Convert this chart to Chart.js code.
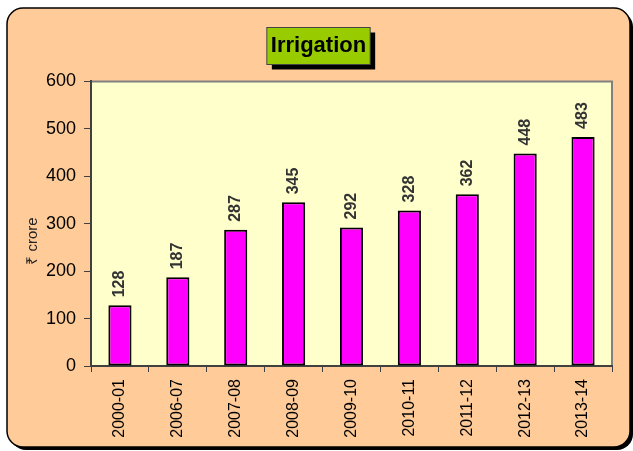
<!DOCTYPE html>
<html>
<head>
<meta charset="utf-8">
<script src="https://cdn.jsdelivr.net/npm/chart.js@4"></script>
<style>
  html, body { margin: 0; padding: 0; background: #fff; }
  #wrap { width: 633px; height: 451px; }
</style>
</head>
<body>
<div id="wrap"><canvas id="myChart" width="633" height="451"></canvas></div>
<script>
// chart values
var years = ['2000-01', '2006-07', '2007-08', '2008-09', '2009-10', '2010-11', '2011-12', '2012-13', '2013-14'];
var spend = [128, 187, 287, 345, 292, 328, 362, 448, 483];
var yTicks = [0, 100, 200, 300, 400, 500, 600];
var yTitle = '₹ crore';

var FONT = "'Liberation Sans', Arial, sans-serif";

// outer rounded panel, title box and plot background
var panelPlugin = {
  id: 'panel',
  beforeDraw: function (chart) {
    var ctx = chart.ctx;
    var x = 7, y = 8, w = 623, h = 439, r = 16;
    ctx.save();
    ctx.beginPath();
    ctx.roundRect(x + 3, y + 3, w, h, r);
    ctx.fillStyle = '#000';
    ctx.fill();
    ctx.beginPath();
    ctx.roundRect(x, y, w, h, r);
    ctx.fillStyle = '#FFCC99';
    ctx.fill();
    ctx.lineWidth = 1.5;
    ctx.strokeStyle = '#000';
    ctx.stroke();

    // title box
    var t = chart.titleBlock;
    ctx.font = 'bold 22px ' + FONT;
    var tw = ctx.measureText('Irrigation').width;
    var cx = t.left + t.width / 2;
    var cy = t.top + 13;
    var bw = tw + 8, bh = 37;
    ctx.fillStyle = '#000';
    ctx.fillRect(cx - bw / 2 + 5, cy - bh / 2 + 5, bw, bh);
    ctx.fillStyle = '#99CC00';
    ctx.fillRect(cx - bw / 2, cy - bh / 2, bw, bh);
    ctx.lineWidth = 1;
    ctx.strokeStyle = '#444';
    ctx.strokeRect(cx - bw / 2, cy - bh / 2, bw, bh);

    // plot area
    var a = chart.chartArea;
    ctx.fillStyle = '#FFFFCC';
    ctx.fillRect(a.left, a.top, a.right - a.left, a.bottom - a.top);
    ctx.strokeStyle = '#808080';
    ctx.lineWidth = 2;
    ctx.beginPath();
    ctx.moveTo(a.left, a.top);
    ctx.lineTo(a.right, a.top);
    ctx.lineTo(a.right, a.bottom);
    ctx.stroke();

    // y axis title
    ctx.save();
    ctx.translate(33, 241);
    ctx.rotate(-Math.PI / 2);
    ctx.font = '15px ' + FONT;
    ctx.fillStyle = '#222';
    ctx.textAlign = 'center';
    ctx.textBaseline = 'middle';
    ctx.fillText(yTitle, 0, 0);
    ctx.restore();
    ctx.restore();
  },
  afterDatasetsDraw: function (chart) {
    // value labels above bars, rotated
    var ctx = chart.ctx;
    var meta = chart.getDatasetMeta(0);
    ctx.save();
    ctx.font = 'bold 16px ' + FONT;
    ctx.fillStyle = '#333';
    ctx.textAlign = 'left';
    ctx.textBaseline = 'middle';
    meta.data.forEach(function (bar, i) {
      ctx.save();
      ctx.translate(bar.x, bar.y - 8);
      ctx.rotate(-Math.PI / 2);
      ctx.fillText(String(spend[i]), 0, 0);
      ctx.restore();
    });
    ctx.restore();
  }
};

var ctx = document.getElementById('myChart').getContext('2d');
var myChart = new Chart(ctx, {
  type: 'bar',
  data: {
    labels: years,
    datasets: [{
      label: 'Irrigation',
      data: spend,
      backgroundColor: '#FF00FF',
      borderColor: '#000',
      borderWidth: 2,
      borderSkipped: false,
      categoryPercentage: 1,
      barPercentage: 0.4
    }]
  },
  plugins: [panelPlugin],
  options: {
    responsive: false,
    animation: false,
    layout: { padding: { top: 33, left: 25, right: 21, bottom: 10 } },
    plugins: {
      legend: { display: false },
      tooltip: { enabled: false },
      title: {
        display: true,
        text: 'Irrigation',
        color: '#000',
        font: { family: FONT, size: 22, weight: 'bold', lineHeight: 1.2 },
        padding: { top: 0, bottom: 22 }
      }
    },
    scales: {
      x: {
        offset: true,
        grid: { offset: true, drawOnChartArea: false, tickLength: 6, color: '#404040' },
        border: { color: '#404040', width: 2 },
        ticks: {
          color: '#000',
          font: { family: FONT, size: 16 },
          minRotation: 90,
          maxRotation: 90,
          autoSkip: false,
          padding: 7
        },
        afterFit: function (scale) { scale.height = 75; }
      },
      y: {
        min: 0,
        max: 600,
        afterBuildTicks: function (scale) {
          scale.ticks = yTicks.map(function (v) { return { value: v }; });
        },
        grid: { drawOnChartArea: false, tickLength: 7, color: '#404040' },
        border: { color: '#404040', width: 2 },
        ticks: {
          color: '#000',
          font: { family: FONT, size: 18 },
          padding: 8
        },
        afterFit: function (scale) { scale.width = 66; }
      }
    }
  }
});
</script>
</body>
</html>
